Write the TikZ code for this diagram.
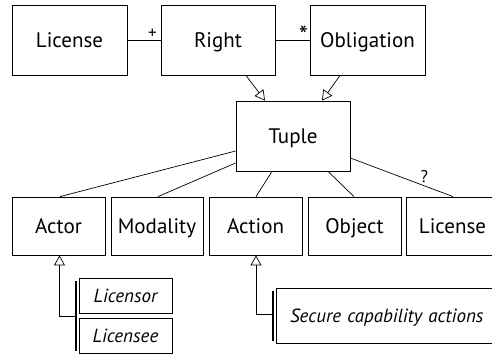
\documentclass[tikz,border=0pt]{standalone}
\usepackage{fontspec}
\setmainfont{PT Sans}
\usetikzlibrary{arrows.meta,calc}
\begin{document}
\begin{tikzpicture}[x=1pt,y=-1pt,
  cls/.style={draw,line width=0.8pt,rectangle,inner sep=0pt,text height=14.5pt,text depth=0pt,font=\fontsize{21}{24}\selectfont},
  sub/.style={draw,line width=0.8pt,rectangle,inner sep=0pt,text height=13pt,text depth=0pt,font=\fontsize{19}{22}\selectfont\itshape},
  conn/.style={line width=0.7pt},
  gen/.style={line width=0.7pt,-{Triangle[open,length=10pt,width=11pt]}},
  bar/.style={line width=2pt},
  mult/.style={font=\fontsize{17}{19}\selectfont,inner sep=1pt}]
\useasboundingbox (0,0) rectangle (492,354);
\clip (0,0) rectangle (492,354);
% top row
\node[cls,minimum width=115pt,minimum height=70pt] (lic) at (69.5,40) {License};
\node[cls,minimum width=114pt,minimum height=70pt] (right) at (218,40) {Right};
\node[cls,minimum width=115pt,minimum height=70pt] (obl) at (367.5,40) {Obligation};
\node[cls,minimum width=114pt,minimum height=70pt] (tuple) at (293,136) {Tuple};
% bottom row
\node[cls,minimum width=93pt,minimum height=58pt] (actor) at (58.5,226) {Actor};
\node[cls,minimum width=92pt,minimum height=58pt] (modality) at (157,226) {Modality};
\node[cls,minimum width=93pt,minimum height=58pt] (action) at (255.5,226) {Action};
\node[cls,minimum width=93pt,minimum height=58pt] (object) at (354.5,226) {Object};
\node[cls,minimum width=93pt,minimum height=58pt] (lic2) at (452.5,226) {License};
% subclasses
\node[sub,minimum width=93pt,minimum height=35pt] (licensor) at (125.5,296) {Licensor};
\node[sub,minimum width=93pt,minimum height=35pt] (licensee) at (125.5,336) {Licensee};
\node[sub,minimum width=225pt,minimum height=55pt,text width=225pt,align=left] (secure) at (388.5,315.5) {\hspace*{14pt}Secure capability actions};
% top connectors
\draw[conn] (lic.east) -- node[mult,pos=0.75,above] {+} (right.west);
\draw[conn] (right.east) -- node[mult,font=\fontsize{26}{28}\selectfont,pos=0.82,above,yshift=-6pt] {*} (obl.west);
\draw[gen] ($(right.south)+(28,0)$) -- ($(tuple.north)+(-28,0)$);
\draw[gen] ($(obl.south)+(-27.5,0)$) -- ($(tuple.north)+(29,0)$);
% tuple to attributes
\draw[conn] ($(tuple.west)+(0,15)$) -- ($(actor.north)+(1.5,0)$);
\draw[conn] ($(tuple.west)+(0,27)$) -- ($(modality.north)+(1,0)$);
\draw[conn] ($(tuple.south)+(-21,0)$) -- ($(action.north)+(0.5,0)$);
\draw[conn] ($(tuple.south)+(35,0)$) -- ($(object.north)+(-0.5,0)$);
\draw[conn] ($(tuple.east)+(0,22)$) -- node[mult,pos=0.72,above,yshift=2pt] {?} ($(lic2.north)+(0.5,0)$);
% generalisation to actor
\coordinate (abar) at (75.8,316);
\draw[bar] (75.8,281) -- (75.8,351);
\draw[gen] (abar) -| ($(actor.south)+(1,0)$);
% generalisation to action
\coordinate (sbar) at (273,314);
\draw[bar] (273,291) -- (273,341);
\draw[gen] (sbar) -| ($(action.south)+(0.5,0)$);
\end{tikzpicture}
\end{document}
